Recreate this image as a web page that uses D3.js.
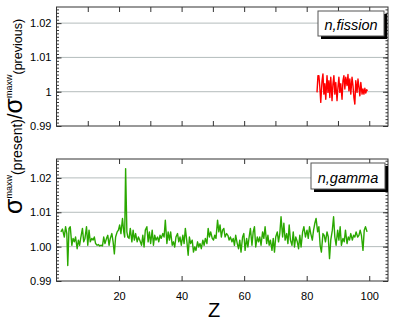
<!DOCTYPE html>
<html><head><meta charset="utf-8">
<script src="https://cdn.jsdelivr.net/npm/d3@7"></script>
<style>body{margin:0;background:#fff}svg{display:block}</style>
</head><body>
<svg id="c" width="395" height="322"></svg>
<script>
// ---- data ----
const fissionZ = [83.3,83.6,83.9,84.2,84.5,84.9,85.2,85.5,85.8,86.1,86.5,86.8,87.1,87.4,87.7,88.1,88.4,88.7,89.0,89.3,89.7,90.0,90.3,90.6,90.9,91.3,91.6,91.9,92.2,92.5,92.9,93.2,93.5,93.8,94.1,94.5,94.8,95.1,95.4,95.7,96.1,96.4,96.7,97.0,97.3,97.7,98.0,98.3,98.6,98.9,99.2,99.4];
const fissionRatio = [0.9998,1.0047,1.0047,1.0013,0.9969,1.0032,1.0052,0.9993,1.0023,0.9978,1.0047,0.9998,1.0032,0.9983,1.0042,0.9974,1.0023,1.0047,0.9993,1.0027,0.9974,1.0013,1.0042,0.9998,1.0023,0.9978,1.0032,1.0047,1.0008,1.0042,1.0018,1.0050,1.0003,1.0037,0.9993,1.0042,1.0018,0.9983,0.9964,1.0032,0.9998,1.0037,1.0013,0.9988,1.0027,0.9993,1.0008,0.9993,1.0010,0.9996,1.0006,1.0002];

const gammaZ = [1.4,1.9,2.5,2.9,3.3,3.6,4.0,4.4,4.9,5.3,5.7,6.1,6.6,7.0,7.4,7.8,8.3,8.7,9.1,9.6,10.0,10.4,10.8,11.3,11.7,12.1,12.5,13.0,13.4,13.8,14.2,14.7,15.1,15.5,16.0,16.4,16.8,17.2,17.7,18.1,18.5,18.9,19.4,19.8,20.2,20.6,21.1,21.5,21.8,22.1,22.5,22.8,23.2,23.6,24.1,24.5,24.9,25.3,25.8,26.2,26.6,
27.2,27.6,28.0,28.4,28.9,29.3,29.7,30.1,30.6,31.0,31.4,31.8,32.3,32.7,33.1,33.5,34.0,34.4,34.8,35.3,35.7,36.1,36.5,37.0,37.4,37.8,38.2,38.7,39.1,39.5,39.9,40.4,40.8,41.2,41.7,42.1,42.5,42.9,43.4,43.8,44.2,44.6,45.1,45.5,45.9,46.3,46.8,47.2,47.6,48.1,48.5,48.9,49.3,49.8,50.2,50.6,51.0,51.5,51.9,52.3,52.7,
53.1,53.5,53.9,54.4,54.8,55.2,55.6,56.1,56.5,56.9,57.3,57.8,58.2,58.6,59.0,59.5,59.9,60.3,60.8,61.2,61.6,62.0,62.5,62.9,63.3,63.7,64.2,64.6,65.0,65.4,65.9,66.3,66.7,67.2,67.6,68.0,68.4,68.9,69.3,69.7,70.1,70.6,71.0,71.4,71.8,72.3,72.7,73.1,73.6,74.0,74.4,74.8,75.3,75.7,76.1,76.5,77.0,77.4,77.8,78.2,78.7,79.1,
79.6,80.1,80.5,80.9,81.3,81.8,82.2,82.6,83.0,83.5,83.9,84.3,84.7,85.2,85.6,86.0,86.5,86.9,87.3,87.7,88.2,88.6,89.0,89.4,89.9,90.3,90.7,91.1,91.6,92.0,92.4,92.9,93.3,93.7,94.1,94.6,95.0,95.4,95.8,96.3,96.7,97.1,97.5,98.0,98.4,98.8,99.3];
const gammaRatio = [1.0043,1.0051,1.0028,1.0058,1.0038,0.9945,1.0053,1.0058,1.0004,1.0024,1.0014,1.0028,0.9994,1.0019,1.0004,1.0028,1.0053,1.0014,1.0024,1.0058,1.0004,1.0048,1.0014,1.0024,1.0019,1.0028,1.0009,1.0004,1.0006,1.0002,1.0004,1.0002,1.0028,1.0009,1.0024,1.0033,1.0004,1.0024,1.0038,1.0014,0.9979,1.0028,1.0043,1.0048,1.0063,1.0038,1.0082,1.0043,1.0028,1.0227,1.0043,1.0028,1.0024,1.0053,1.0014,1.0048,1.0019,1.0038,1.0014,1.0028,1.0019,
1.0004,1.0033,0.9999,1.0048,1.0058,1.0014,1.0043,1.0009,1.0048,1.0004,1.0033,1.0019,1.0028,1.0014,1.0033,1.0024,1.0038,1.0028,1.0077,1.0009,1.0043,1.0019,1.0043,1.0004,1.0014,0.9999,1.0028,1.0038,1.0014,1.0028,1.0004,1.0033,1.0009,1.0053,1.0014,0.9975,1.0028,1.0009,1.0019,0.9984,0.9999,0.9989,1.0014,0.9999,1.0009,0.9994,1.0019,1.0004,1.0024,1.0009,1.0053,1.0028,1.0043,1.0024,1.0019,1.0033,1.0024,1.0077,1.0043,1.0063,1.0028,
1.0048,1.0053,1.0028,1.0038,1.0033,1.0019,1.0028,1.0014,1.0024,1.0004,1.0033,1.0009,0.9994,1.0019,0.9984,1.0028,1.0038,0.9989,1.0024,0.9999,1.0028,1.0053,1.0004,1.0043,1.0058,0.9999,1.0028,1.0014,1.0028,1.0004,1.0043,1.0024,1.0058,1.0009,1.0033,1.0004,1.0019,0.9989,1.0024,0.9984,1.0028,1.0043,1.0014,1.0038,1.0087,1.0028,1.0068,1.0019,1.0038,1.0009,1.0063,1.0019,1.0004,1.0043,0.9999,1.0028,1.0014,0.9994,1.0033,0.9999,1.0043,1.0058,
1.0028,1.0048,1.0024,1.0058,1.0038,1.0019,1.0048,1.0068,1.0082,1.0043,1.0058,1.0004,0.9984,1.0038,1.0033,1.0014,1.0043,1.0028,0.9965,1.0019,1.0048,1.0087,1.0028,1.0004,1.0048,1.0019,1.0058,1.0004,1.0024,1.0014,1.0048,1.0009,1.0028,1.0019,1.0038,1.0019,1.0033,1.0028,1.0043,1.0028,1.0033,1.0048,1.0033,0.9989,1.0048,1.0058,1.0043];

const yMajor = [0.99, 1.00, 1.01, 1.02];
const yLabelsTop = ["0.99", "1", "1.01", "1.02"];
const yLabelsBottom = ["0.99", "1.00", "1.01", "1.02"];
const xTicksTop = [10,20,30,40,50,60,70,80,90,100];
const xTicksBottom = [20,40,60,80,100];
const xLabelsBottom = ["20","40","60","80","100"];
const legendTop = "n,fission";
const legendBottom = "n,gamma";

// ---- drawing ----
const svg = d3.select("#c");
const FONT = "'Liberation Sans', Arial, Helvetica, sans-serif";
const L = 56.5, R = 388;
const x = d3.scaleLinear().domain([0, 106]).range([L, R]);

function panel(top, bottom, yMax, zs, vals, color, yLabels, xTicks, xLabels, legendText, box) {
  const y = d3.scaleLinear().domain([0.99, yMax]).range([bottom, top]);
  const g = svg.append("g");
  const id = "clip" + Math.round(top);
  svg.append("clipPath").attr("id", id).append("rect")
    .attr("x", L).attr("y", top).attr("width", R - L).attr("height", bottom - top);

  // gridlines
  g.selectAll(".grid").data(yMajor.slice(1)).join("line")
    .attr("x1", L).attr("x2", R)
    .attr("y1", d => y(d)).attr("y2", d => y(d))
    .attr("stroke", "#b4bcbc").attr("stroke-width", 1);

  // minor y ticks
  const minor = d3.range(0.99, yMax, 0.001);
  const axMinL = d3.axisLeft(y).tickValues(minor).tickSize(-2.5).tickFormat("");
  const axMinR = d3.axisRight(y).tickValues(minor).tickSize(-2.5).tickFormat("");
  [[axMinL, L], [axMinR, R]].forEach(([a, px]) => {
    const s = g.append("g").attr("transform", `translate(${px},0)`).call(a);
    s.select(".domain").remove();
    s.selectAll("line").attr("stroke", "#333");
  });
  // major y ticks
  const axL = d3.axisLeft(y).tickValues(yMajor).tickSize(-5).tickPadding(5)
    .tickFormat((d, i) => yLabels[i]);
  const sL = g.append("g").attr("transform", `translate(${L},0)`).call(axL);
  sL.select(".domain").remove();
  sL.selectAll("line").attr("stroke", "#333");
  sL.selectAll("text").attr("font-family", FONT).attr("font-size", 11).attr("fill", "#000");
  const axR = d3.axisRight(y).tickValues(yMajor).tickSize(-5).tickFormat("");
  const sR = g.append("g").attr("transform", `translate(${R},0)`).call(axR);
  sR.select(".domain").remove();
  sR.selectAll("line").attr("stroke", "#333");

  // x ticks
  const axT = d3.axisTop(x).tickValues(xTicks).tickSize(-5).tickFormat("");
  const sT = g.append("g").attr("transform", `translate(0,${top})`).call(axT);
  sT.select(".domain").remove();
  sT.selectAll("line").attr("stroke", "#333");
  const axB = d3.axisBottom(x).tickValues(xTicks).tickSize(-5).tickPadding(11)
    .tickFormat((d, i) => xLabels ? xLabels[i] : "");
  const sB = g.append("g").attr("transform", `translate(0,${bottom})`).call(axB);
  sB.select(".domain").remove();
  sB.selectAll("line").attr("stroke", "#333");
  sB.selectAll("text").attr("font-family", FONT).attr("font-size", 11).attr("fill", "#000");

  // data line
  const line = d3.line().x(d => x(d[0])).y(d => y(d[1]));
  g.append("path").datum(zs.map((z, i) => [z, vals[i]]))
    .attr("clip-path", `url(#${id})`)
    .attr("d", line).attr("fill", "none").attr("stroke", color)
    .attr("stroke-width", 1.4).attr("stroke-linejoin", "round");

  // frame
  g.append("rect").attr("x", L).attr("y", top).attr("width", R - L).attr("height", bottom - top)
    .attr("fill", "none").attr("stroke", "#333").attr("stroke-width", 1);

  // legend box
  g.append("rect").attr("x", box.x + 3).attr("y", box.y + 3).attr("width", box.w).attr("height", box.h)
    .attr("fill", "#000");
  g.append("rect").attr("x", box.x).attr("y", box.y).attr("width", box.w).attr("height", box.h)
    .attr("fill", "#fff").attr("stroke", "#555").attr("stroke-width", 1);
  g.append("text").attr("x", box.x + box.w / 2).attr("y", box.y + box.h - 6)
    .attr("text-anchor", "middle").attr("font-family", FONT).attr("font-style", "italic")
    .attr("font-size", 14.5).attr("fill", "#000").text(legendText);
}

panel(7, 126, 1.0247, fissionZ, fissionRatio, "#ff0000", yLabelsTop, xTicksTop, null, legendTop,
  {x: 318, y: 11, w: 66, h: 25});
panel(159, 281, 1.0255, gammaZ, gammaRatio, "#2aa800", yLabelsBottom, xTicksBottom, xLabelsBottom, legendBottom,
  {x: 311, y: 163, w: 74, h: 26});

// axis titles
svg.append("text").attr("x", 214).attr("y", 317).attr("text-anchor", "middle")
  .attr("font-family", FONT).attr("font-size", 20).text("Z");

const yl = svg.append("text").attr("transform", "translate(22,214) rotate(-90)")
  .attr("font-family", FONT).attr("fill", "#000");
yl.append("tspan").attr("font-size", 25).text("σ");
yl.append("tspan").attr("font-size", 9).attr("dy", -10).text("maxw");
yl.append("tspan").attr("font-size", 14).attr("dy", 10).text("(present)");
yl.append("tspan").attr("font-size", 20).text("/");
yl.append("tspan").attr("font-size", 25).text("σ");
yl.append("tspan").attr("font-size", 9).attr("dy", -10).text("maxw");
yl.append("tspan").attr("font-size", 12.5).attr("dy", 10).text("(previous)");
</script>
</body></html>
